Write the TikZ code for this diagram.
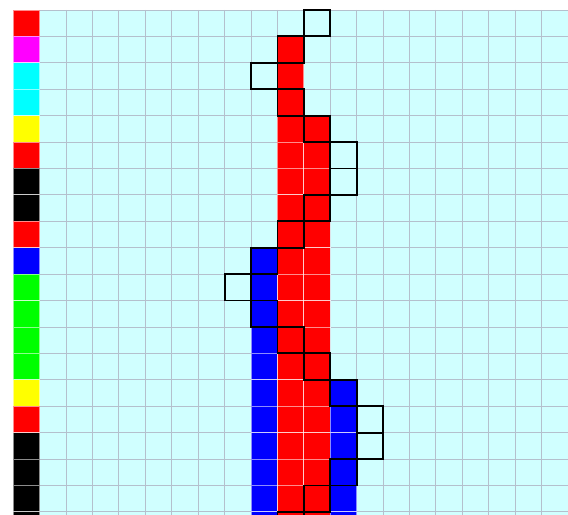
\documentclass[tikz,border=0pt]{standalone}
\usepackage{tikz}
\definecolor{bgcyan}{RGB}{208,255,255}
\definecolor{gridgrey}{RGB}{180,192,205}
\definecolor{sred}{RGB}{255,0,0}
\definecolor{smagenta}{RGB}{255,0,255}
\definecolor{scyan}{RGB}{0,255,255}
\definecolor{syellow}{RGB}{255,255,0}
\definecolor{sgreen}{RGB}{0,255,0}
\definecolor{sblue}{RGB}{0,0,255}
\definecolor{sblack}{RGB}{0,0,0}
\begin{document}
\begin{tikzpicture}[x=0.7cm,y=-0.7cm,
    gridline/.style={gridgrey,line width=0.7pt},
    tapecell/.style={fill=#1,draw=white,draw opacity=0.55,line width=0.7pt},
    headcell/.style={draw=black,line width=1.4pt}]
    \useasboundingbox (-1.503,-0.378) rectangle (20,19.1);
    \clip (-1.503,-0.378) rectangle (20,19.1);
    \fill[bgcyan] (0,0) rectangle (20,19.1);
    \foreach \x in {0,...,20} \draw[gridline] (\x,0) -- (\x,19.1);
    \foreach \y in {0,...,19} \draw[gridline] (0,\y) -- (20,\y);
    % state column
    \foreach \c [count=\r from 0] in {sred,smagenta,scyan,scyan,syellow,sred,sblack,sblack,sred,sblue,sgreen,sgreen,sgreen,sgreen,syellow,sred,sblack,sblack,sblack,sblack}
        \draw[tapecell=\c] (-1,\r) rectangle +(1,1);
    % tape
    \foreach \r in {1,...,19} \draw[tapecell=sred] (9,\r) rectangle +(1,1);
    \foreach \r in {4,...,19} \draw[tapecell=sred] (10,\r) rectangle +(1,1);
    \foreach \r in {9,...,19} \draw[tapecell=sblue] (8,\r) rectangle +(1,1);
    \foreach \r in {14,...,19} \draw[tapecell=sblue] (11,\r) rectangle +(1,1);
    % head
    \foreach \h [count=\r from 0] in {10,9,8,9,10,11,11,10,9,8,7,8,9,10,11,12,12,11,10,9}
        \draw[headcell] (\h,\r) rectangle +(1,1);
\end{tikzpicture}
\end{document}
